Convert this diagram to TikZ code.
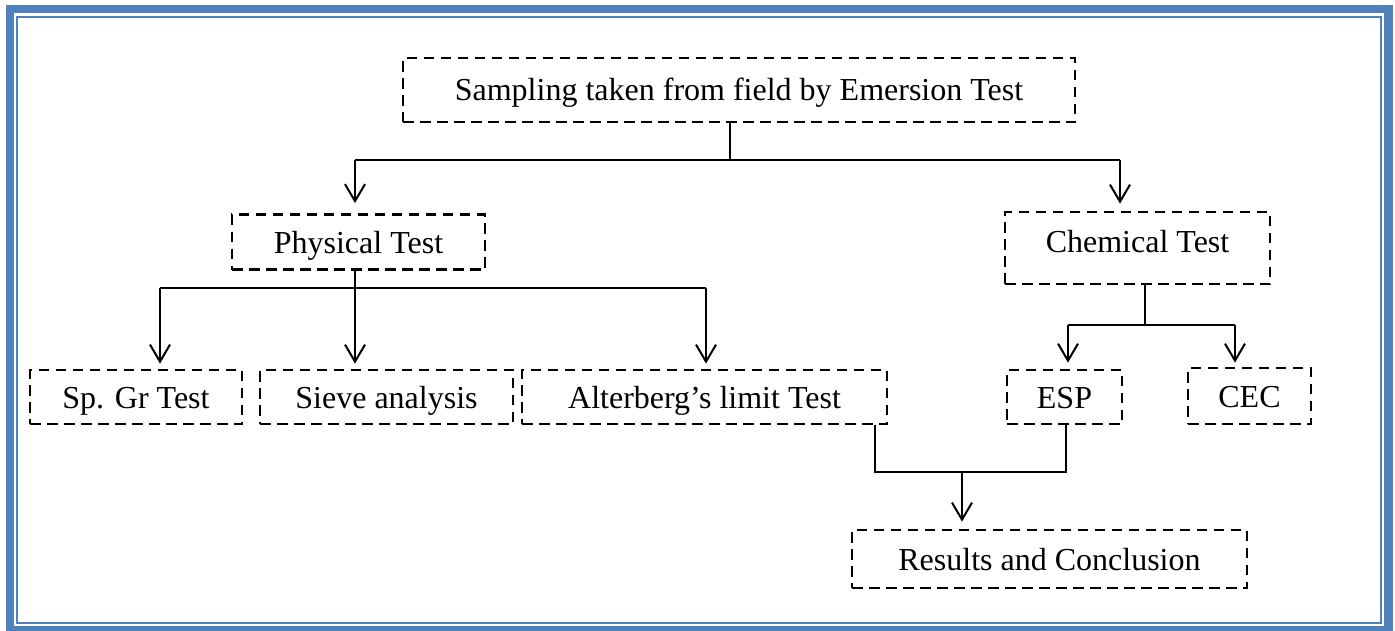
\documentclass[tikz,border=0pt]{standalone}
\usepackage{fontspec}
\setmainfont{Liberation Serif}
\usetikzlibrary{arrows.meta}
\definecolor{frameblue}{HTML}{4F81BD}
\begin{document}
\begin{tikzpicture}[x=1pt,y=-1pt,
  box/.style={draw, line width=2.8pt, dash pattern=on 10.5pt off 6.5pt, inner sep=0pt,
    text height=23pt, text depth=1pt, font=\fontsize{32}{38}\selectfont},
  conn/.style={line width=2pt},
  arr/.style={line width=2pt, -{Straight Barb[length=17pt,width=20pt,line width=2pt]}}]
\useasboundingbox (0,0) rectangle (1395,630);
\fill[white] (0,0) rectangle (1395,630);
% frame
\draw[frameblue, line width=8.5pt] (10,9) rectangle (1388.5,630);
\draw[frameblue, line width=2.8pt] (17,17) rectangle (1381,623);
% nodes
\node[box, minimum width=672pt, minimum height=64pt, text depth=3pt] (top) at (739,90) {Sampling taken from field by Emersion Test};
\node[box, minimum width=253pt, minimum height=55pt] (phys) at (358.5,242) {Physical Test};
\node[box, minimum width=265pt, minimum height=72pt, text depth=15pt] (chem) at (1137.5,248) {Chemical Test};
\node[box, minimum width=212pt, minimum height=54pt] (spgr) at (136,397) {Sp. Gr Test};
\node[box, minimum width=253pt, minimum height=54pt] (sieve) at (386.5,397) {Sieve analysis};
\node[box, minimum width=365pt, minimum height=54pt] (alt) at (704.5,397) {Alterberg’s limit Test};
\node[box, minimum width=115pt, minimum height=54pt] (esp) at (1064.5,397) {ESP};
\node[box, minimum width=123pt, minimum height=56pt] (cec) at (1249.5,396) {CEC};
\node[box, minimum width=395pt, minimum height=58pt] (res) at (1049.5,559) {Results and Conclusion};
% junctions
\coordinate (j1) at (730,160);
\coordinate (j1l) at (355,160);
\coordinate (j1r) at (1120,160);
\coordinate (j2) at (355,288);
\coordinate (j2l) at (160,288);
\coordinate (j2r) at (706,288);
\coordinate (j3) at (1145,325);
\coordinate (j3l) at (1068,325);
\coordinate (j3r) at (1235,325);
\coordinate (j4l) at (875,472);
\coordinate (j4r) at (1066,472);
\coordinate (j4) at (962,472);
% connectors
\draw[conn] (top.south -| j1) -- (j1);
\draw[conn] (j1l) -- (j1r);
\draw[arr] (j1l) -- ([yshift=10pt]phys.north -| j1l);
\draw[arr] (j1r) -- ([yshift=7pt]chem.north -| j1r);
\draw[conn] (j2l) -- (j2r);
\draw[arr] (phys.south -| j2) -- ([yshift=5pt]sieve.north -| j2);
\draw[arr] (j2l) -- ([yshift=5pt]spgr.north -| j2l);
\draw[arr] (j2r) -- ([yshift=5pt]alt.north -| j2r);
\draw[conn] (chem.south -| j3) -- (j3);
\draw[conn] (j3l) -- (j3r);
\draw[arr] (j3l) -- ([yshift=6pt]esp.north -| j3l);
\draw[arr] (j3r) -- ([yshift=4pt]cec.north -| j3r);
\draw[conn] (alt.south -| j4l) -- (j4l) -- (j4r) -- (esp.south -| j4r);
\draw[arr] (j4) -- ([yshift=7pt]res.north -| j4);
\end{tikzpicture}
\end{document}
